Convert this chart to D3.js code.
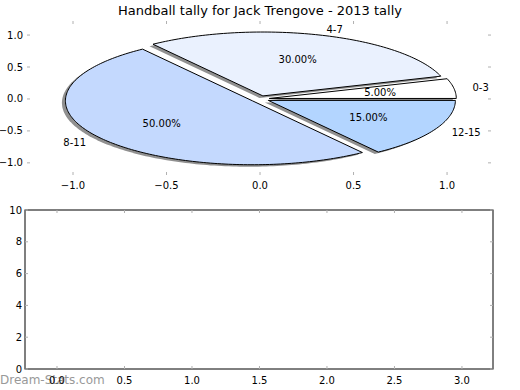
<!DOCTYPE html>
<html><head><meta charset="utf-8">
<script src="https://cdn.jsdelivr.net/npm/d3@7"></script>
<style>body{margin:0;background:#fff}svg{display:block}text{font-family:"DejaVu Sans",sans-serif}</style>
</head><body>
<svg id="c" width="520" height="390"></svg>
<script>
const title = "Handball tally for Jack Trengove - 2013 tally";
const categories = ["0-3", "4-7", "8-11", "12-15"];
const values = [5, 30, 50, 15];
const colors = ["#ffffff", "#eaf1fe", "#c4d9fe", "#b3d5ff"];
const explode = [0.05, 0.05, 0.05, 0.05];
const pieXTicks = [-1.0, -0.5, 0.0, 0.5, 1.0];
const pieYTicks = [-1.0, -0.5, 0.0, 0.5, 1.0];
const lowXTicks = [0.0, 0.5, 1.0, 1.5, 2.0, 2.5, 3.0];
const lowYTicks = [0, 2, 4, 6, 8, 10];

const svg = d3.select("#c");
const fmt1 = d => d3.format(".1f")(d).replace("-", "\u2212");

// ---------- top (pie) axes ----------
const xs = d3.scaleLinear([-1.246, 1.235], [27, 491]);
const ys = d3.scaleLinear([-1.19, 1.22], [175, 21]);

svg.append("text").attr("x", 260).attr("y", 15).attr("text-anchor", "middle")
  .attr("font-size", 13).attr("fill", "#000").text(title);

const total = d3.sum(values);
let acc = 0;
const wedges = values.map((v, i) => {
  const t1 = acc / total * 2 * Math.PI; acc += v;
  const t2 = acc / total * 2 * Math.PI;
  const mid = (t1 + t2) / 2;
  const cx = explode[i] * Math.cos(mid), cy = explode[i] * Math.sin(mid);
  return {i, v, t1, t2, mid, cx, cy};
});

function wedgePath(w, dx, dy) {
  const n = Math.max(8, Math.ceil((w.t2 - w.t1) / 0.02));
  const pts = [[w.cx, w.cy]];
  for (let k = 0; k <= n; k++) {
    const t = w.t1 + (w.t2 - w.t1) * k / n;
    pts.push([w.cx + Math.cos(t), w.cy + Math.sin(t)]);
  }
  return d3.line().x(p => xs(p[0]) + dx).y(p => ys(p[1]) + dy)(pts) + "Z";
}

const g = svg.append("g");
wedges.forEach(w => {
  g.append("path").attr("d", wedgePath(w, -3.5, 2)).attr("fill", "#555").attr("opacity", 0.65).attr("stroke", "none");
  g.append("path").attr("d", wedgePath(w, 0, 0)).attr("fill", colors[w.i])
    .attr("stroke", "#000").attr("stroke-width", 1).attr("stroke-linejoin", "miter");
});
wedges.forEach(w => {
  const lx = w.cx + 1.1 * Math.cos(w.mid), ly = w.cy + 1.1 * Math.sin(w.mid);
  svg.append("text").attr("x", xs(lx)).attr("y", ys(ly)).attr("dy", "0.35em")
    .attr("text-anchor", lx > 0 ? "start" : "end").attr("font-size", 10).text(categories[w.i]);
  const px = w.cx + 0.6 * Math.cos(w.mid), py = w.cy + 0.6 * Math.sin(w.mid);
  svg.append("text").attr("x", xs(px)).attr("y", ys(py)).attr("dy", "0.35em")
    .attr("text-anchor", "middle").attr("font-size", 10).text(d3.format(".2f")(w.v / total * 100) + "%");
});

const tickCol = "#b0b0b0";
// pie axes ticks (frame off)
pieXTicks.forEach(t => {
  svg.append("line").attr("x1", xs(t)).attr("x2", xs(t)).attr("y1", 21).attr("y2", 24).attr("stroke", tickCol);
  svg.append("line").attr("x1", xs(t)).attr("x2", xs(t)).attr("y1", 175).attr("y2", 172).attr("stroke", tickCol);
  svg.append("text").attr("x", xs(t)).attr("y", 189).attr("text-anchor", "middle").attr("font-size", 10).text(fmt1(t));
});
pieYTicks.forEach(t => {
  svg.append("line").attr("x1", 27).attr("x2", 30).attr("y1", ys(t)).attr("y2", ys(t)).attr("stroke", tickCol);
  svg.append("line").attr("x1", 491).attr("x2", 488).attr("y1", ys(t)).attr("y2", ys(t)).attr("stroke", tickCol);
  svg.append("text").attr("x", 23).attr("y", ys(t)).attr("dy", "0.35em").attr("text-anchor", "end").attr("font-size", 10).text(fmt1(t));
});

// ---------- bottom (empty) axes ----------
const bx = d3.scaleLinear([-0.237, 3.23], [25, 493]);
const by = d3.scaleLinear([0, 10], [369, 210]);
svg.append("rect").attr("x", 25).attr("y", 210).attr("width", 468).attr("height", 159)
  .attr("fill", "none").attr("stroke", "#000").attr("stroke-width", 1);
lowXTicks.forEach(t => {
  svg.append("line").attr("x1", bx(t)).attr("x2", bx(t)).attr("y1", 210).attr("y2", 213).attr("stroke", tickCol);
  svg.append("line").attr("x1", bx(t)).attr("x2", bx(t)).attr("y1", 369).attr("y2", 366).attr("stroke", tickCol);
});
lowYTicks.forEach(t => {
  svg.append("line").attr("x1", 25).attr("x2", 28).attr("y1", by(t)).attr("y2", by(t)).attr("stroke", tickCol);
  svg.append("line").attr("x1", 493).attr("x2", 490).attr("y1", by(t)).attr("y2", by(t)).attr("stroke", tickCol);
  svg.append("text").attr("x", 22).attr("y", by(t)).attr("dy", "0.35em").attr("text-anchor", "end").attr("font-size", 10).text(t);
});
svg.append("text").attr("x", 0).attr("y", 384).attr("font-size", 12).attr("fill", "#999").text("Dream-Stats.com");
lowXTicks.forEach(t => {
  svg.append("text").attr("x", bx(t)).attr("y", 384).attr("text-anchor", "middle").attr("font-size", 10).text(fmt1(t));
});
</script>
</body></html>
